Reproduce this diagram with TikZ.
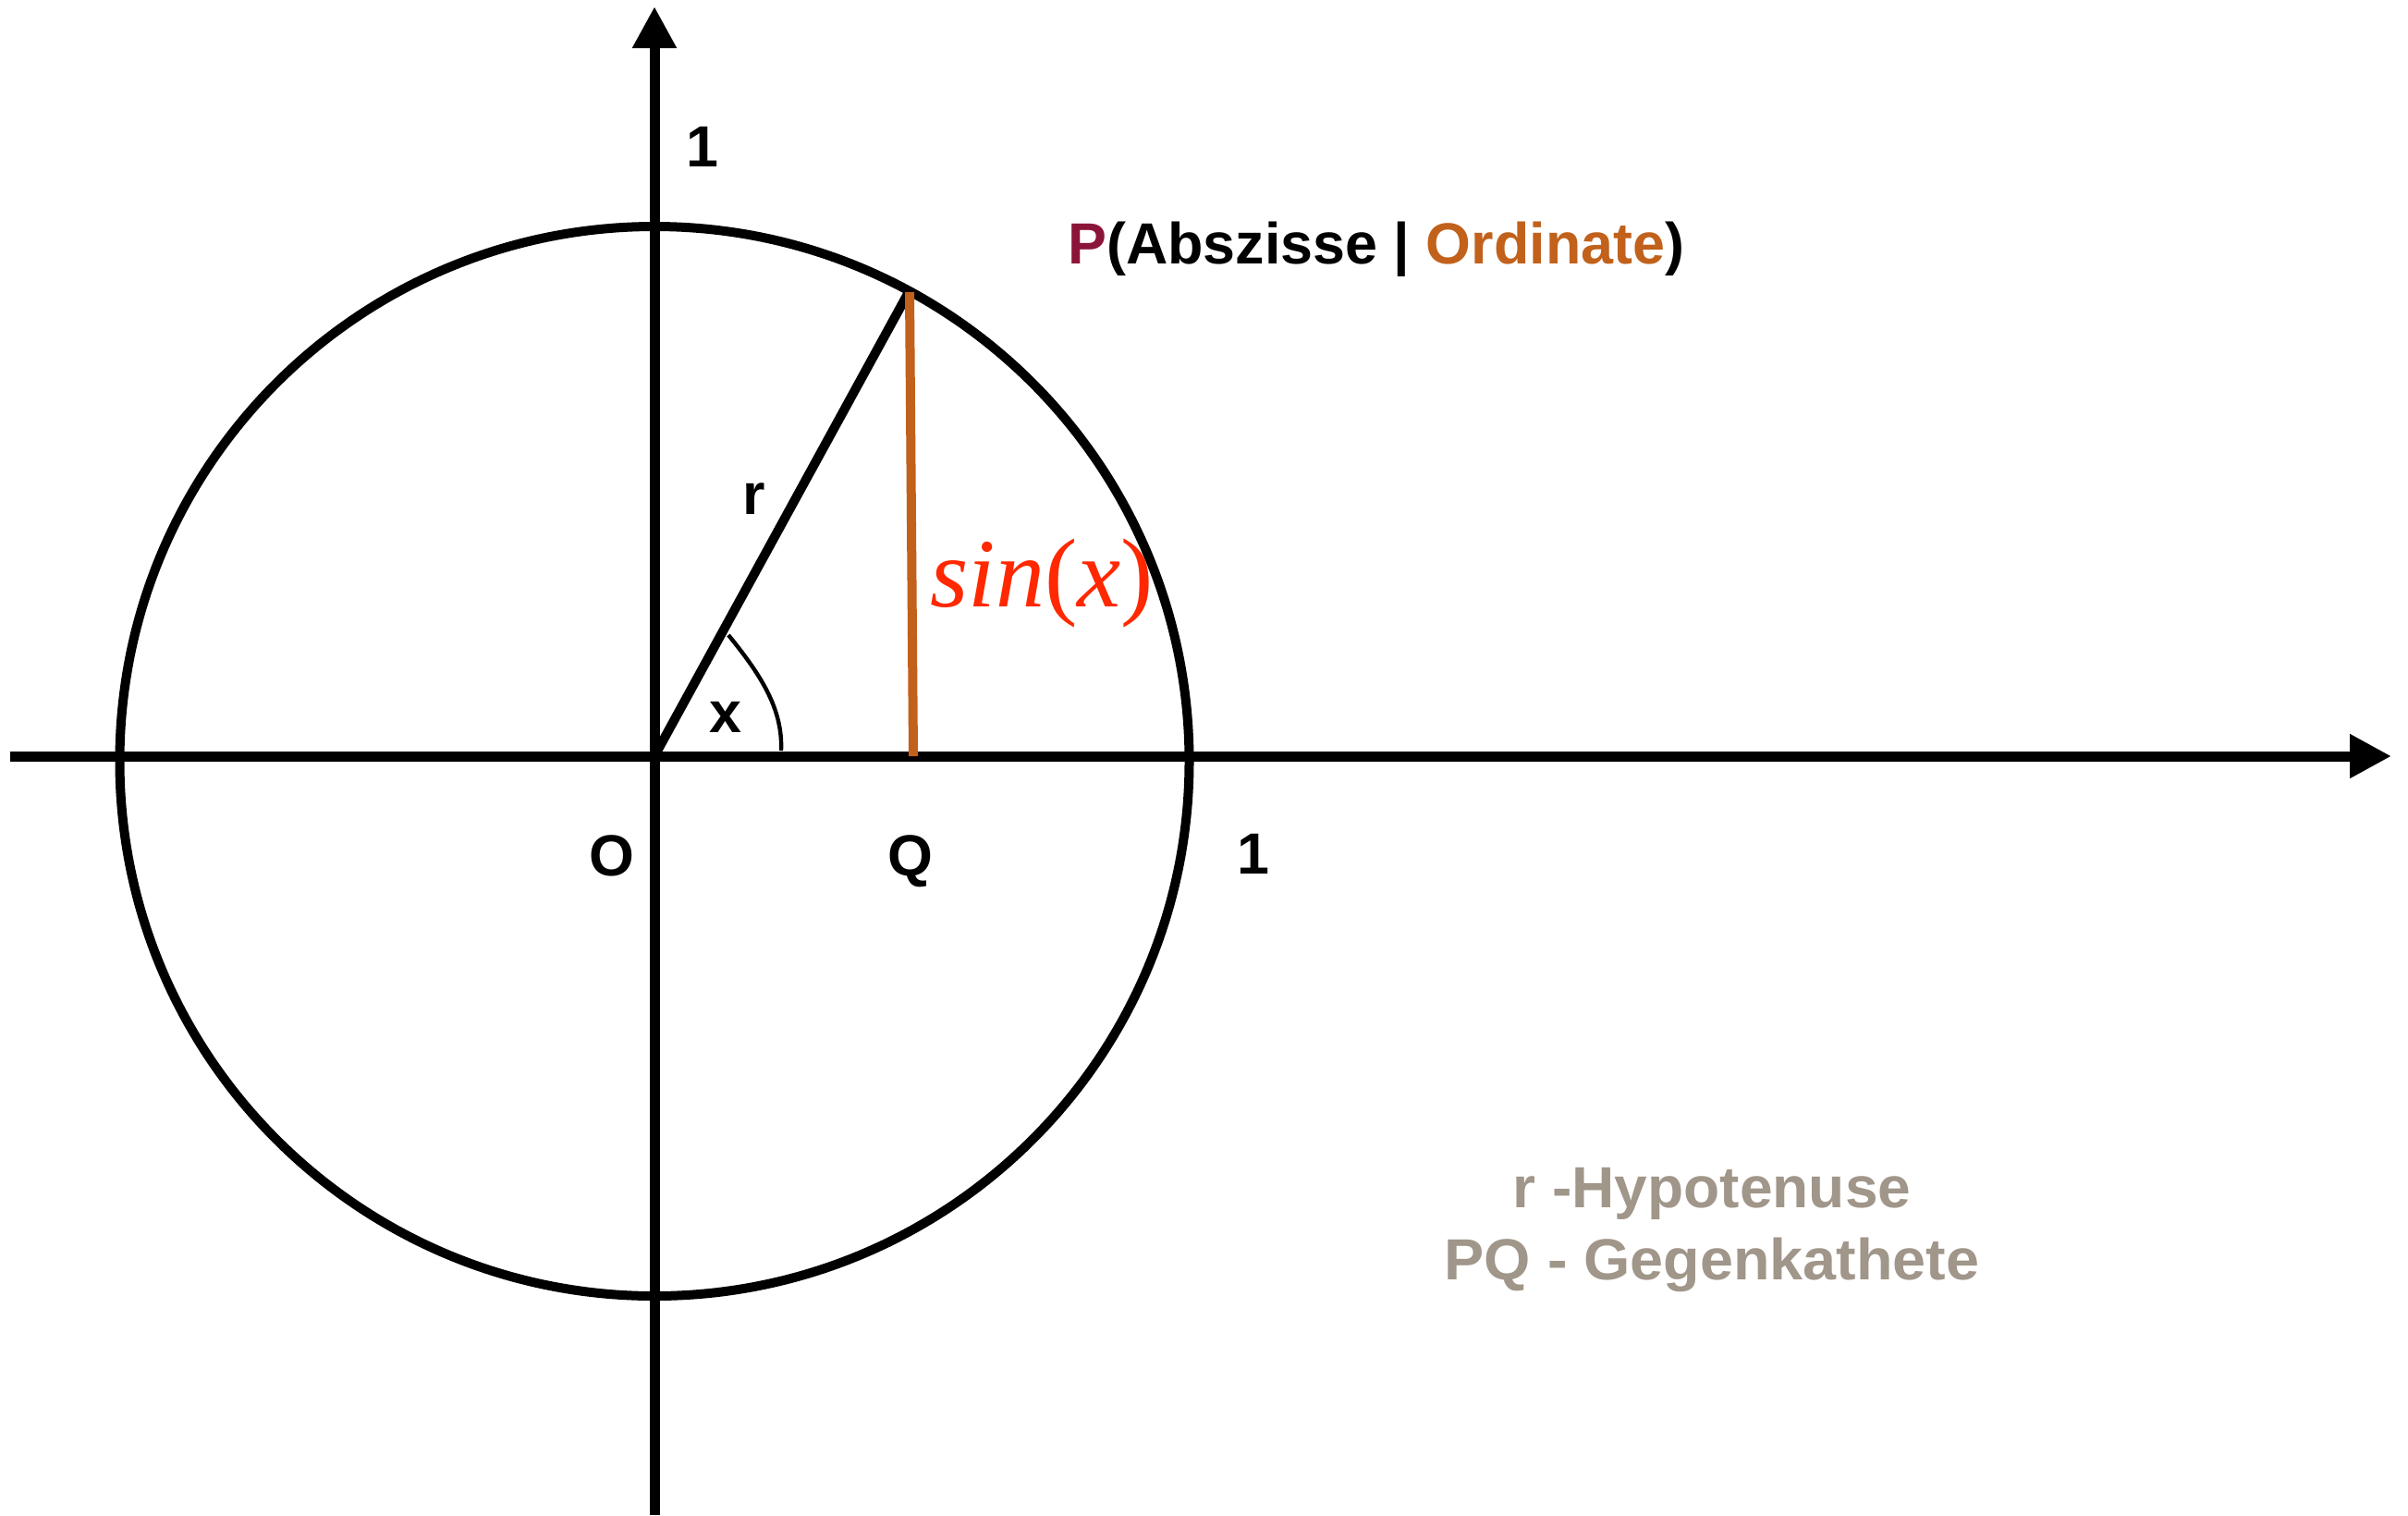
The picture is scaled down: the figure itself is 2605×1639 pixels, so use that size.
\documentclass[tikz,border=0pt]{standalone}
\usepackage{fontspec}
\setmainfont{Liberation Sans}
\newfontfamily\serifit{Liberation Serif}
\usetikzlibrary{arrows.meta}
\definecolor{maroonP}{RGB}{139,21,57}
\definecolor{orangeO}{RGB}{193,97,27}
\definecolor{redsin}{RGB}{255,40,0}
\definecolor{greytxt}{RGB}{160,150,137}
\tikzset{
  axis/.style={line width=5.5pt,-{Triangle[length=22.5pt,width=22.5pt]}},
  circ/.style={line width=5pt},
  radline/.style={line width=5pt},
  ordline/.style={line width=5pt,orangeO},
  anglearc/.style={line width=2.2pt},
  lbl/.style={inner sep=0pt,font=\fontsize{31.4}{36}\selectfont\bfseries},
}
\begin{document}
\begin{tikzpicture}[x=0.5pt,y=-0.5pt]
\useasboundingbox (0,0) rectangle (2605,1639);
\coordinate (O) at (708,818);
\coordinate (xl) at (11,818);
\coordinate (xr) at (2587,818);
\coordinate (yb) at (708,1639);
\coordinate (yt) at (708,7);
\coordinate (C) at (708,823.5);
\coordinate (P) at (983,316);
\coordinate (Pt) at (984,316);
\coordinate (Q) at (988,818);
\coordinate (a1) at (788,687);
\coordinate (a2) at (845,812);
% axes
\draw[axis] (xl) -- (xr);
\draw[axis] (yb) -- (yt);
% circle
\draw[circ] (C) circle[radius=289.25pt];
% radius
\draw[radline,line cap=round] (O) -- (P);
% ordinate
\draw[ordline] (Pt) -- (Q);
% angle
\draw[anglearc] (a1) .. controls (823,730) and (847,767) .. (a2);
% labels
\node[lbl,anchor=base] (one1) at (760,180) {1};
\node[lbl,anchor=base] (oneR) at (1356,945) {1};
\node[lbl,anchor=base] (lO) at (662,947) {O};
\node[lbl,anchor=base] (lQ) at (985,947) {Q};
\node[lbl,anchor=base] (lx) at (785,792) {x};
\node[lbl,anchor=base] (lr) at (816,556) {r};
\node[lbl,anchor=base west] (ptxt) at (1155,285) {\textcolor{maroonP}{P}(Abszisse | \textcolor{orangeO}{Ordinate})};
\node[inner sep=0pt,anchor=base west,text=redsin,font=\fontsize{53}{60}\selectfont\serifit] (sin) at (1006,656) {\textit{sin}(\textit{x})};
\node[lbl,anchor=base,text=greytxt] (h1) at (1852,1306) {\scalebox{1.02}[1]{r -Hypotenuse}};
\node[lbl,anchor=base,text=greytxt] (h2) at (1852,1384) {\scalebox{1.03}[1]{PQ - Gegenkathete}};
\end{tikzpicture}
\end{document}
